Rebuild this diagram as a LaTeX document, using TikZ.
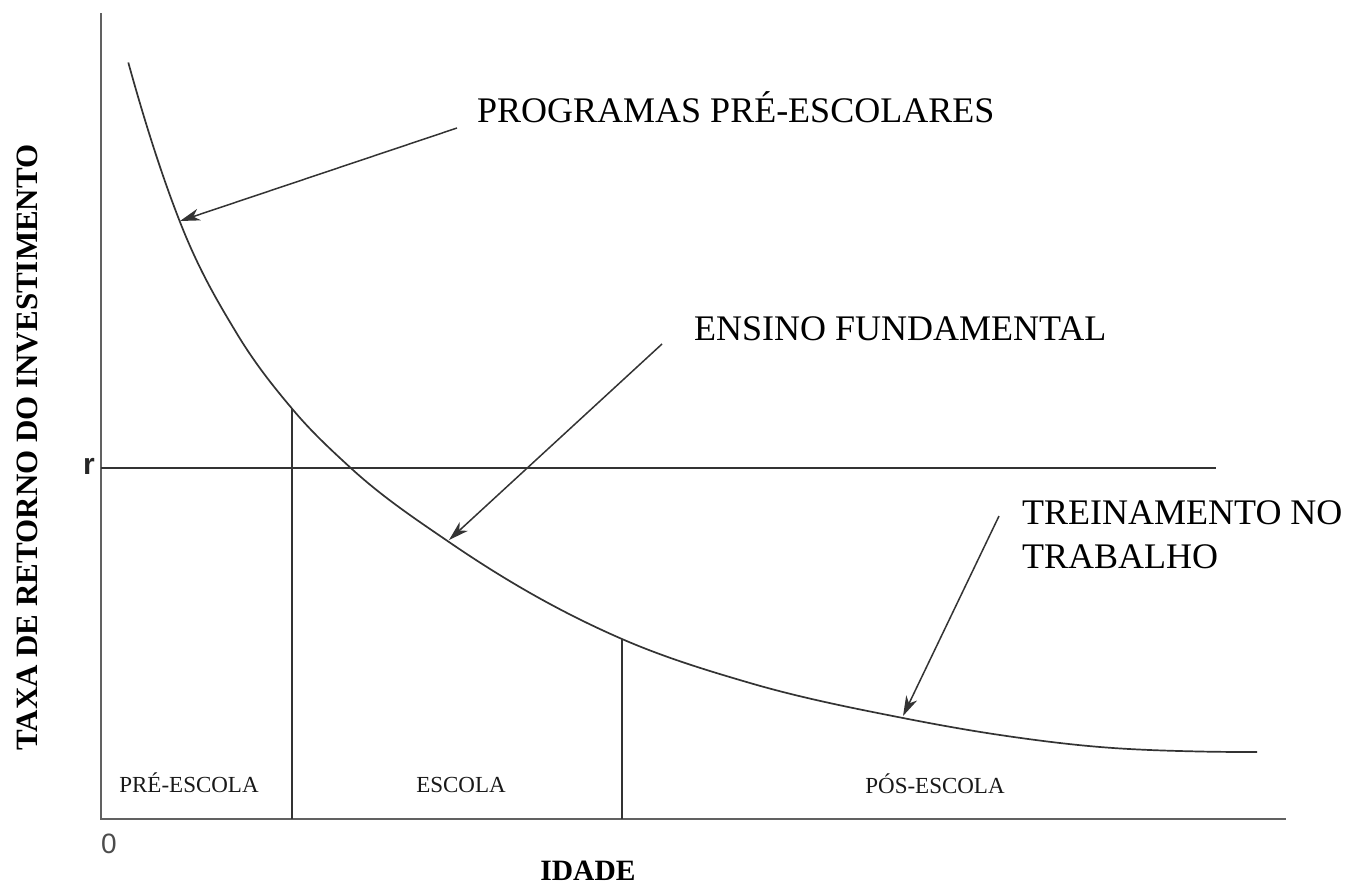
\documentclass[tikz,border=0pt]{standalone}
\usepackage{fontspec}
\setmainfont{Liberation Serif}
\newfontfamily\sansfam{Liberation Sans}
\usetikzlibrary{arrows.meta}
\begin{document}
\begin{tikzpicture}[x=1pt,y=-1pt,
  axisline/.style={draw=black!62,line width=2.2pt},
  thinline/.style={draw=black!80,line width=1.5pt},
  curveline/.style={draw=black!80,line width=1.7pt},
  pointer/.style={draw=black!80,line width=1.5pt,-{Stealth[length=20pt,width=12pt,inset=6pt]}},
  biglabel/.style={inner sep=0pt,font=\fontsize{36}{46}\selectfont,text=black},
  zonelabel/.style={inner sep=0pt,font=\fontsize{23}{28}\selectfont,text=black!90,anchor=base},
  boldlabel/.style={inner sep=0pt,font=\bfseries,text=black}]
\useasboundingbox (0,0) rectangle (1346,884);
% axes
\coordinate (origin) at (101,819);
\coordinate (ytop) at (101,13);
\coordinate (xend) at (1286,819);
\draw[axisline] (ytop) -- (origin) -- (xend);
% r line
\coordinate (rleft) at (101,468);
\coordinate (rright) at (1216,468);
\draw[thinline] (rleft) -- (rright);
% curve
\coordinate (c0) at (128.3,62.5);
\coordinate (c1) at (180,222);
\coordinate (c2) at (236.7,333.3);
\coordinate (c3) at (292,408.6);
\coordinate (c4) at (350,467.3);
\coordinate (c5) at (449,542);
\coordinate (c6) at (550,604);
\coordinate (c7) at (622,639);
\coordinate (c8) at (750,683);
\coordinate (c9) at (903,718);
\coordinate (c10) at (1000,735);
\coordinate (c11) at (1100,747);
\coordinate (c12) at (1200,751.5);
\coordinate (c13) at (1257,752);
\draw[curveline] (c0)
  .. controls (145.53,124.9) and (162.77,178.1) .. (c1)
  .. controls (198.9,270.2) and (217.8,301.94) .. (c2)
  .. controls (255.13,363.81) and (273.57,386.73) .. (c3)
  .. controls (311.33,431.78) and (330.67,449.48) .. (c4)
  .. controls (383,497.56) and (416,519.4) .. (c5)
  .. controls (482.67,565.06) and (516.33,585.85) .. (c6)
  .. controls (574,616.94) and (598,628.56) .. (c7)
  .. controls (664.67,657.56) and (707.33,670.54) .. (c8)
  .. controls (801,697.89) and (852,708) .. (c9)
  .. controls (935.33,724.34) and (967.67,730.21) .. (c10)
  .. controls (1033.33,739.93) and (1066.67,744.25) .. (c11)
  .. controls (1133.33,749.75) and (1166.67,750.77) .. (c12)
  .. controls (1219,751.92) and (1238,752) .. (c13);
% dividers
\coordinate (d1bot) at (292,819);
\coordinate (d2bot) at (622,819);
\draw[thinline] (c3) -- (d1bot);
\draw[thinline] (c7) -- (d2bot);
% labels
\node[biglabel,anchor=base west] (prog) at (477,122) {PROGRAMAS PRÉ-ESCOLARES};
\node[biglabel,anchor=base west] (ens) at (694,340) {ENSINO FUNDAMENTAL};
\node[biglabel,anchor=north west,align=left] (trein) at (1022,500) {TREINAMENTO NO\\[-2pt]TRABALHO};
% arrows
\coordinate (a1s) at (457,128);
\coordinate (a1e) at (180,221);
\coordinate (a2s) at (662,344);
\coordinate (a2e) at (449,540);
\coordinate (a3s) at (999,516);
\coordinate (a3e) at (903,716);
\draw[pointer] (a1s) -- (a1e);
\draw[pointer] (a2s) -- (a2e);
\draw[pointer] (a3s) -- (a3e);
% zone labels
\node[zonelabel] (pre) at (189,792) {PRÉ-ESCOLA};
\node[zonelabel] (esc) at (461,792) {ESCOLA};
\node[zonelabel] (pos) at (935,793) {PÓS-ESCOLA};
% axis labels
\node[boldlabel,rotate=90,font=\fontsize{31}{36}\selectfont\bfseries] (ylab) at (27.5,447.5) {TAXA DE RETORNO DO INVESTIMENTO};
\node[boldlabel,anchor=base,font=\fontsize{29.5}{34}\selectfont\bfseries] (xlab) at (588,880) {IDADE};
\node[inner sep=0pt,anchor=base east,font=\sansfam\fontsize{30}{34}\selectfont\bfseries,text=black!85] (rlab) at (95,474) {r};
\node[inner sep=0pt,anchor=base west,font=\sansfam\fontsize{28}{32}\selectfont,text=black!70] (zero) at (101,853) {0};
\end{tikzpicture}
\end{document}
